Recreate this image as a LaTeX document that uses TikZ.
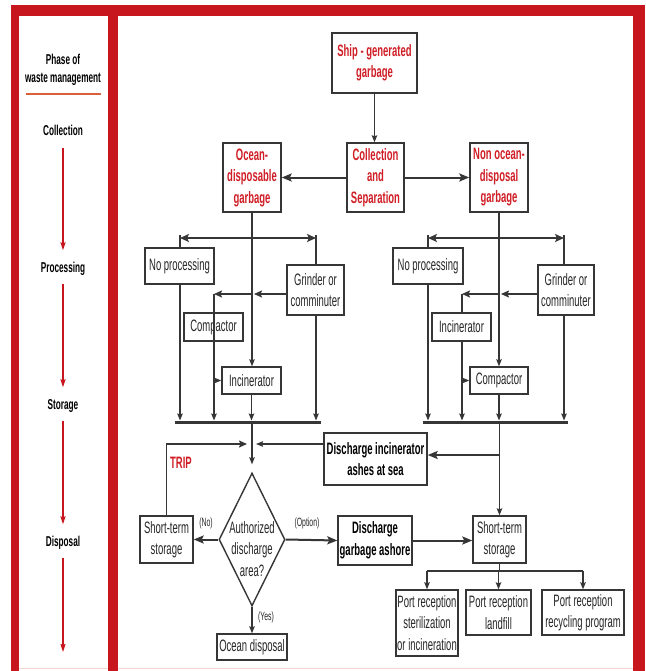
\documentclass[tikz,border=0pt]{standalone}
\usepackage{fontspec}
\setmainfont{Liberation Sans}[FakeStretch=0.575]
\usetikzlibrary{arrows.meta,shapes.geometric}
\definecolor{framered}{HTML}{C8161E}
\definecolor{txtred}{HTML}{D01E26}
\definecolor{ulred}{HTML}{D9603A}
\definecolor{ink}{HTML}{262626}
\definecolor{boxc}{HTML}{363636}
\begin{document}
\begin{tikzpicture}[x=1pt,y=-1pt,
  box/.style={draw=boxc, line width=1.4pt, fill=white, inner sep=0pt, align=center, text=ink, font=\fontsize{16.5}{21.5}\selectfont},
  redbox/.style={box, text=txtred, font=\fontsize{16.5}{21.5}\selectfont\bfseries},
  boldbox/.style={box, text=black, font=\fontsize{16.5}{21.5}\selectfont\bfseries},
  txt/.style={inner sep=0pt, align=center, text=ink, font=\fontsize{16.5}{21.5}\selectfont},
  small/.style={inner sep=0pt, text=ink, font=\fontsize{12}{13}\selectfont},
  trip/.style={inner sep=0pt, text=txtred, font=\fontsize{16.5}{17}\selectfont\bfseries},
  phase/.style={inner sep=0pt, align=center, text=black, text height=10.5pt, text depth=2.5pt, font=\fontsize{14.3}{18}\selectfont\bfseries},
  conn/.style={draw=boxc, line width=1.2pt},
  arr/.style={conn, -{Stealth[length=7pt,width=5.5pt,inset=1pt]}},
  marr/.style={draw=boxc, line width=1.6pt, -{Stealth[length=8pt,width=7pt,inset=1.5pt]}},
  tarr/.style={draw=boxc, line width=2pt, -{Stealth[length=10pt,width=8pt,inset=2pt]}},
  darr/.style={draw=boxc, line width=1.8pt, {Stealth[length=9pt,width=8pt,inset=2pt]}-{Stealth[length=9pt,width=8pt,inset=2pt]}},
  rarr/.style={draw=framered, line width=1.1pt, -{Stealth[length=8pt,width=5pt,inset=1pt]}},
  busbar/.style={draw=boxc, line width=3pt}
]
\useasboundingbox (0,0) rectangle (645,671);
% frame
\fill[white] (0,0) rectangle (645,671);
\fill[framered] (11,5) rectangle (645,671);
\fill[white] (19,16) rectangle (108,671);
\fill[white] (118,16) rectangle (633,671);
\draw[ulred!25, line width=1pt] (19,668) -- (108,668);
\draw[ulred!25, line width=1pt] (118,668) -- (633,668);

% left column
\node[inner sep=0pt, align=center, text=black, font=\fontsize{14.3}{18}\selectfont\bfseries] (ph) at (63,70) {Phase of\\waste management};
\draw[ulred, line width=2pt] (26,94) -- (101,94);
\node[phase] (pc) at (63,132) {Collection};
\node[phase] (pp) at (63,268) {Processing};
\node[phase] (ps) at (63,405) {Storage};
\node[phase] (pd) at (63,542) {Disposal};
\coordinate (pend) at (63,652);
\draw[rarr, shorten <=9pt, shorten >=11pt] (pc.south) -- (pp.north);
\draw[rarr, shorten <=9pt, shorten >=11pt] (pp.south) -- (ps.north);
\draw[rarr, shorten <=9pt, shorten >=11pt] (ps.south) -- (pd.north);
\draw[rarr, shorten <=9pt] (pd.south) -- (pend);

% top
\node[redbox, minimum width=85pt, minimum height=60pt] (ship) at (374.5,63) {Ship - generated\\garbage};
\node[redbox, minimum width=57pt, minimum height=69pt] (coll) at (375.5,177.5) {Collection\\and\\Separation};
\node[redbox, minimum width=58pt, minimum height=69pt] (ocean) at (252,177.5) {Ocean-\\disposable\\garbage};
\node[redbox, minimum width=58pt, minimum height=69pt] (nonoc) at (499,177.5) {Non ocean-\\disposal\\garbage};
\draw[arr] (ship.south) -- (ship.south |- coll.north);
\draw[tarr] (coll.west) -- (ocean.east);
\draw[tarr] (coll.east) -- (nonoc.west);

% left processing
\node[box, minimum width=69pt, minimum height=36pt] (npL) at (179.5,266) {No processing};
\node[box, minimum width=57pt, minimum height=50pt] (grL) at (315.5,290) {Grinder or\\comminuter};
\node[box, minimum width=59pt, minimum height=28pt] (cpL) at (213.5,327) {Compactor};
\node[box, minimum width=59pt, minimum height=27pt] (inL) at (251.5,380.5) {Incinerator};
\coordinate (tL1) at (180,238);
\coordinate (tL2) at (316,238);
\draw[conn] (tL1) ++(0,-3) -- (tL1 |- npL.north);
\draw[conn] (tL2) ++(0,-3) -- (tL2 |- grL.north);
\draw[darr] (tL1) -- (tL2);
\draw[arr] (ocean.south) -- (ocean.south |- inL.north);
\coordinate (jL2) at (252,294);
\coordinate (jL) at (214,294);
\draw[marr, shorten >=2pt] (grL.west |- jL2) -- (jL2);
\draw[marr] (jL2) -- (jL);
\coordinate (bL1) at (175,422);
\coordinate (bL2) at (321,422);
\draw[busbar] (bL1) -- (bL2);
\draw[arr, shorten >=1.5pt] (jL) -- (jL |- bL1);
\draw[arr] (jL |- inL.west) -- (inL.west);
\draw[arr, shorten >=1.5pt] (tL1 |- npL.south) -- (tL1 |- bL1);
\draw[arr, shorten >=1.5pt] (tL2 |- grL.south) -- (tL2 |- bL1);
\draw[arr, shorten >=1.5pt] (inL.south) -- (inL.south |- bL1);

% right processing
\node[box, minimum width=70pt, minimum height=36pt] (npR) at (428,266) {No processing};
\node[box, minimum width=56pt, minimum height=50pt] (grR) at (566,290) {Grinder or\\comminuter};
\node[box, minimum width=59pt, minimum height=28pt] (inR) at (461.5,327) {Incinerator};
\node[box, minimum width=58pt, minimum height=27pt] (cpR) at (499,380.5) {Compactor};
\coordinate (tR1) at (428,238);
\coordinate (tR2) at (564,238);
\draw[conn] (tR1) ++(0,-3) -- (tR1 |- npR.north);
\draw[conn] (tR2) ++(0,-3) -- (tR2 |- grR.north);
\draw[darr] (tR1) -- (tR2);
\draw[arr] (nonoc.south) -- (nonoc.south |- cpR.north);
\coordinate (jR2) at (499,294);
\coordinate (jR) at (462,294);
\draw[marr, shorten >=2pt] (grR.west |- jR2) -- (jR2);
\draw[marr] (jR2) -- (jR);
\draw[conn] (jR) -- (jR |- inR.north);
\coordinate (bR1) at (423,422);
\coordinate (bR2) at (568,422);
\draw[busbar] (bR1) -- (bR2);
\draw[arr, shorten >=1.5pt] (jR |- inR.south) -- (jR |- bR1);
\draw[arr] (jR |- cpR.west) -- (cpR.west);
\draw[arr, shorten >=1.5pt] (npR.south) -- (npR.south |- bR1);
\draw[arr, shorten >=1.5pt] (tR2 |- grR.south) -- (tR2 |- bR1);
\draw[arr, shorten >=1.5pt] (cpR.south) -- (cpR.south |- bR1);

% storage / disposal
\node[boldbox, minimum width=103pt, minimum height=52pt] (dis) at (375.5,459) {Discharge incinerator\\ashes at sea};
\node[diamond, draw=boxc, line width=1.4pt, minimum width=66pt, minimum height=133pt, inner sep=0pt] (dia) at (252,539.5) {};
\node[txt] (diat) at (252,549) {Authorized\\discharge\\area?};
\node[box, minimum width=53pt, minimum height=47pt] (stL) at (166.5,539.5) {Short-term\\storage};
\node[boldbox, minimum width=74pt, minimum height=49pt] (dga) at (375,540.5) {Discharge\\garbage ashore};
\node[box, minimum width=53pt, minimum height=47pt] (stR) at (499.5,539.5) {Short-term\\storage};
\node[box, minimum width=70pt, minimum height=26pt] (od) at (252,647) {Ocean disposal};
\node[box, minimum width=62pt, minimum height=66pt] (p1) at (427,623) {Port reception\\sterilization\\or incineration};
\node[box, minimum width=65pt, minimum height=45pt] (p2) at (498.5,612.5) {Port reception\\landfill};
\node[box, minimum width=82pt, minimum height=45pt] (p3) at (583,612.5) {Port reception\\recycling program};
\node[trip] (trip) at (181,463) {TRIP};
\node[small] (lno) at (206,523) {(No)};
\node[small] (lopt) at (307,523) {(Option)};
\node[small] (lyes) at (266,617) {(Yes)};

\coordinate (mL) at (252,444);
\coordinate (mR) at (499,455);
\draw[arr, shorten >=8pt] (dia.north |- bL1) -- (dia.north);
\draw[marr, shorten >=5pt] (stL.north) |- (mL);
\draw[arr, shorten >=4pt] (dis.west |- mL) -- (mL);
\draw[arr] (stR.north |- bR1) -- (stR.north);
\draw[tarr] (mR) -- (dis.east |- mR);
\draw[tarr] (dia.west) -- (stL.east);
\draw[tarr] (dia.east) -- (dga.west);
\draw[arr] (dia.south) -- (od.north);
\draw[tarr] (dga.east) -- (dga.east -| stR.west);
\coordinate (pj) at (499,571);
\draw[conn] (stR.south) -- (stR.south |- pj);
\draw[conn] (p1.north |- pj) -- (p3.north |- pj);
\draw[arr] (p1.north |- pj) -- (p1.north);
\draw[arr] (p2.north |- pj) -- (p2.north);
\draw[arr] (p3.north |- pj) -- (p3.north);
\end{tikzpicture}
\end{document}
